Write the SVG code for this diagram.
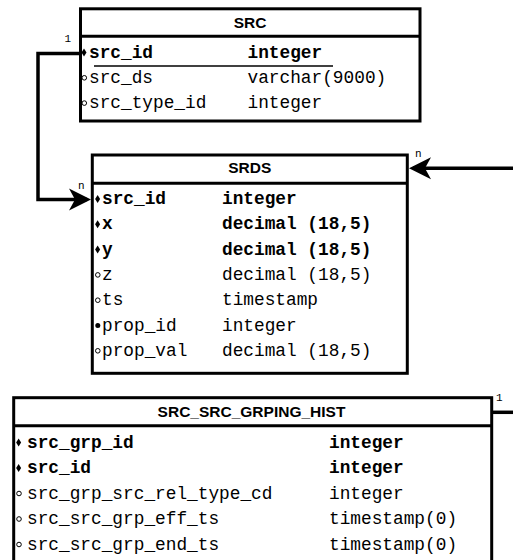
<svg xmlns="http://www.w3.org/2000/svg" width="513" height="560" viewBox="0 0 513 560">
<style>
.box{fill:#fff;stroke:#000;stroke-width:3}
.sep{stroke:#000;stroke-width:3}
.hdr{font-family:"Liberation Sans",Arial,sans-serif;font-weight:bold;font-size:15.5px;text-anchor:middle;fill:#000}
.f{font-family:"Liberation Mono","Courier New",monospace;font-size:17.8px;fill:#000}
.b{font-weight:bold}
.lbl{font-family:"Liberation Mono","Courier New",monospace;font-size:11px;fill:#000}
.conn{fill:none;stroke:#000;stroke-width:3.5}
.oc{fill:#fff;stroke:#000;stroke-width:1}
</style>
<defs>
<marker id="arr" viewBox="-23 -12 24 24" refX="-4" refY="0" markerWidth="24" markerHeight="24" markerUnits="userSpaceOnUse" orient="auto">
<path d="M0,0 L-22,-11 L-16,0 L-22,11 Z" fill="#000"/>
</marker>
<path id="dia" d="M0,-4 L2.5,0 L0,4 L-2.5,0 Z" fill="#000"/>
</defs>
<rect width="513" height="560" fill="#fff"/>

<g id="SRC">
<rect class="box" x="80.5" y="8.8" width="339.5" height="112.2"/>
<line class="sep" x1="80.5" y1="36.2" x2="420" y2="36.2"/>
<text class="hdr" x="250" y="27.5">SRC</text>
<use href="#dia" x="84" y="52.5"/>
<text class="f b" x="89" y="57.5">src_id</text>
<text class="f b" x="247.5" y="57.5">integer</text>
<line x1="94" y1="66" x2="333" y2="66" stroke="#000" stroke-width="1.5"/>
<circle class="oc" cx="84.3" cy="77.8" r="2.3"/>
<text class="f" x="89" y="82.8">src_ds</text>
<text class="f" x="247.5" y="82.8">varchar(9000)</text>
<circle class="oc" cx="84.3" cy="103.1" r="2.3"/>
<text class="f" x="89" y="108.1">src_type_id</text>
<text class="f" x="247.5" y="108.1">integer</text>
</g>

<g id="SRDS">
<rect class="box" x="92.3" y="155" width="315" height="218.3"/>
<line class="sep" x1="92.3" y1="183.3" x2="407.3" y2="183.3"/>
<text class="hdr" x="249.8" y="173.3">SRDS</text>
<use href="#dia" x="97.6" y="199"/>
<text class="f b" x="102" y="204">src_id</text>
<text class="f b" x="222" y="204">integer</text>
<use href="#dia" x="97.6" y="224.3"/>
<text class="f b" x="102" y="229.3">x</text>
<text class="f b" x="222" y="229.3">decimal (18,5)</text>
<use href="#dia" x="97.6" y="249.6"/>
<text class="f b" x="102" y="254.6">y</text>
<text class="f b" x="222" y="254.6">decimal (18,5)</text>
<circle class="oc" cx="97.8" cy="274.9" r="2.3"/>
<text class="f" x="102" y="279.9">z</text>
<text class="f" x="222" y="279.9">decimal (18,5)</text>
<circle class="oc" cx="97.8" cy="300.2" r="2.3"/>
<text class="f" x="102" y="305.2">ts</text>
<text class="f" x="222" y="305.2">timestamp</text>
<circle cx="97.8" cy="325.5" r="2.5" fill="#000"/>
<text class="f" x="102" y="330.5">prop_id</text>
<text class="f" x="222" y="330.5">integer</text>
<circle class="oc" cx="97.8" cy="350.8" r="2.3"/>
<text class="f" x="102" y="355.8">prop_val</text>
<text class="f" x="222" y="355.8">decimal (18,5)</text>
</g>

<g id="SRC_SRC_GRPING_HIST">
<rect class="box" x="13.7" y="397.7" width="478" height="180"/>
<line class="sep" x1="13.7" y1="425.7" x2="491.7" y2="425.7"/>
<text class="hdr" x="251.5" y="417.3">SRC_SRC_GRPING_HIST</text>
<use href="#dia" x="18.6" y="442.5"/>
<text class="f b" x="27" y="447.5">src_grp_id</text>
<text class="f b" x="329" y="447.5">integer</text>
<use href="#dia" x="18.6" y="468"/>
<text class="f b" x="27" y="473">src_id</text>
<text class="f b" x="329" y="473">integer</text>
<circle class="oc" cx="19" cy="493.5" r="2.3"/>
<text class="f" x="27" y="498.5">src_grp_src_rel_type_cd</text>
<text class="f" x="329" y="498.5">integer</text>
<circle class="oc" cx="19" cy="519" r="2.3"/>
<text class="f" x="27" y="524">src_src_grp_eff_ts</text>
<text class="f" x="329" y="524">timestamp(0)</text>
<circle class="oc" cx="19" cy="544.5" r="2.3"/>
<text class="f" x="27" y="549.5">src_src_grp_end_ts</text>
<text class="f" x="329" y="549.5">timestamp(0)</text>
</g>

<g id="connectors">
<polyline class="conn" points="79,53.5 38,53.5 38,199.5 87,199.5" marker-end="url(#arr)"/>
<text class="lbl" x="64.5" y="42">1</text>
<text class="lbl" x="78" y="188.5">n</text>
<polyline class="conn" points="515,168.3 413,168.3" marker-end="url(#arr)"/>
<text class="lbl" x="415" y="157">n</text>
<line class="conn" x1="491.7" y1="412.3" x2="515" y2="412.3" stroke-width="2.5"/>
<text class="lbl" x="496" y="401">1</text>
</g>
</svg>
